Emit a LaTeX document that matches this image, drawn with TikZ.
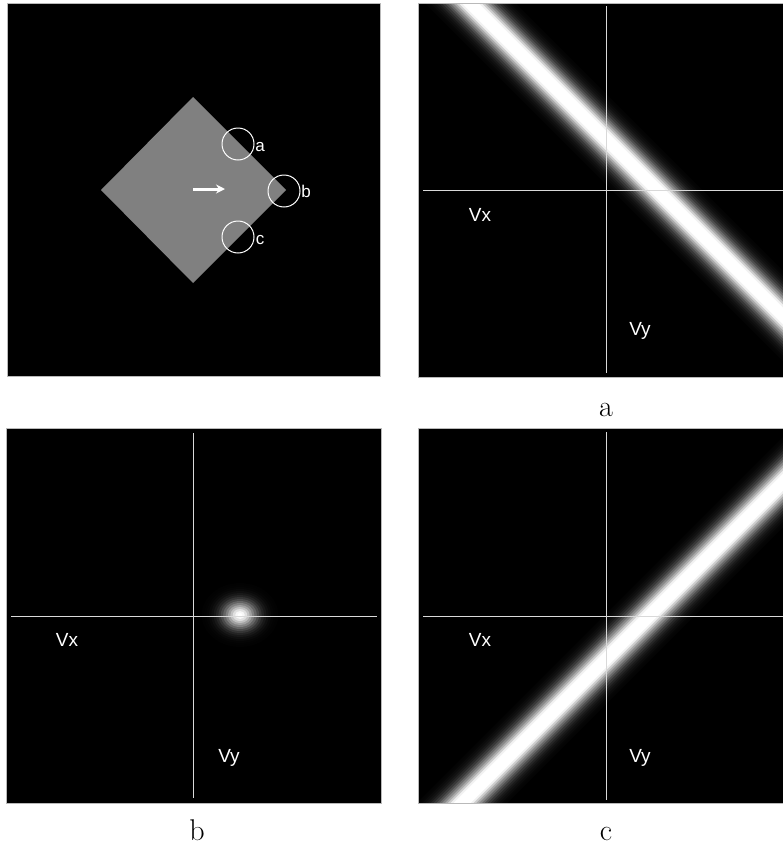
\documentclass[tikz,border=0pt]{standalone}
\usepackage{fontspec}
\newfontfamily\lsans{Liberation Sans}
\usetikzlibrary{arrows.meta}
\begin{document}
\begin{tikzpicture}[x=1pt,y=-1pt,
  panel/.style={fill=black},
  framebox/.style={draw=gray!55, line width=0.7pt},
  axisline/.style={draw=white!85!black, line width=0.9pt},
  lbl/.style={text=white, font=\lsans\fontsize{19}{22}\selectfont, anchor=base, inner sep=0pt},
  smalllbl/.style={text=white, font=\lsans\fontsize{17}{20}\selectfont, anchor=base, inner sep=0pt},
  captxt/.style={text=black, font=\fontsize{30}{34}\selectfont, anchor=base, inner sep=0pt},
  ring/.style={draw=white, line width=1pt}]
\useasboundingbox[fill=white] (0,0) rectangle (783,846);

% ---------- panels ----------
\fill[panel] (7,3) rectangle (380,376);
\fill[panel] (418,3) rectangle (783,377);
\fill[panel] (6,428) rectangle (381,803);
\fill[panel] (418,428) rectangle (783,803);

% ---------- top-left: diamond ----------
\fill[black!50] (193,97) -- (286,190) -- (193,283) -- (101,190) -- cycle;
\draw[white, line width=3pt, -{Stealth[length=9pt,width=9pt]}] (193,189) -- (225,189);
\draw[ring] (238,144) circle[radius=16];
\draw[ring] (284,191) circle[radius=16];
\draw[ring] (238,237) circle[radius=16];
\node[smalllbl] (la) at (260,151) {a};
\node[smalllbl] (lb) at (306,197) {b};
\node[smalllbl] (lc) at (260,244) {c};

% ---------- top-right: band ----------
\begin{scope}
  \clip (418,3) rectangle (783,377);
  \foreach \h in {32,30,...,2}{
    \pgfmathsetmacro\lv{min(100,125*exp(-\h*\h/230))}
    \pgfmathsetmacro\lw{2*\h}
    \draw[line width=\lw pt, color=white!\lv!black] (420,-47) -- (870,403);
  }
\end{scope}
\draw[axisline] (606,6) -- (606,373);
\draw[axisline] (423,190) -- (783,190);
\node[lbl] (vx1) at (480,221) {Vx};
\node[lbl] (vy1) at (640,335) {Vy};

% ---------- bottom-left: blob ----------
\begin{scope}
  \clip (6,428) rectangle (381,803);
  \foreach \r in {32,30,...,2}{
    \pgfmathsetmacro\lv{min(100,105*exp(-\r*\r/200))}
    \fill[color=white!\lv!black] (240,615) ellipse[x radius=1.2*\r, y radius=\r];
  }
\end{scope}
\draw[axisline] (193,433) -- (193,798);
\draw[axisline] (11,616) -- (377,616);
\node[lbl] (vx2) at (67,646) {Vx};
\node[lbl] (vy2) at (229,762) {Vy};

% ---------- bottom-right: band ----------
\begin{scope}
  \clip (418,428) rectangle (783,803);
  \foreach \h in {32,30,...,2}{
    \pgfmathsetmacro\lv{min(100,125*exp(-\h*\h/230))}
    \pgfmathsetmacro\lw{2*\h}
    \draw[line width=\lw pt, color=white!\lv!black] (415,850) -- (865,400);
  }
\end{scope}
\draw[axisline] (606,432) -- (606,800);
\draw[axisline] (423,616) -- (783,616);
\node[lbl] (vx3) at (480,646) {Vx};
\node[lbl] (vy3) at (640,762) {Vy};

% ---------- frames ----------
\draw[framebox] (7,3) rectangle (380,376);
\draw[framebox] (418,3) rectangle (783,377);
\draw[framebox] (6,428) rectangle (381,803);
\draw[framebox] (418,428) rectangle (783,803);

% ---------- captions ----------
\node[captxt] (ca) at (606,416) {a};
\node[captxt] (cb) at (197,840) {b};
\node[captxt] (cc) at (606,840) {c};
\end{tikzpicture}
\end{document}
